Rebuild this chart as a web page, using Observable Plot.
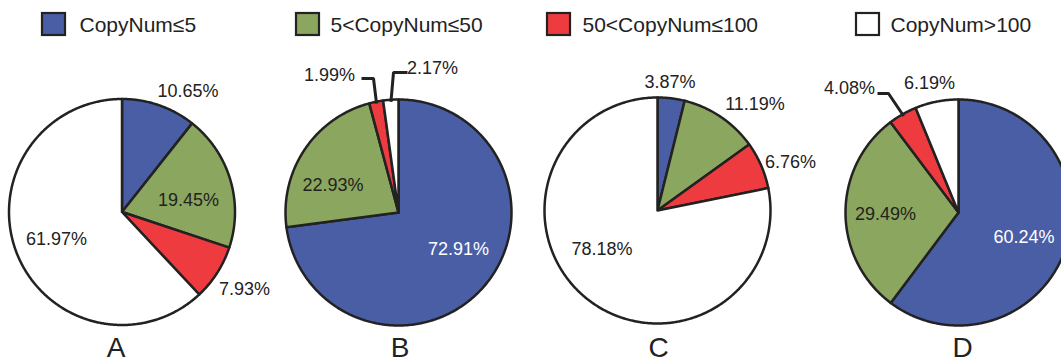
<!DOCTYPE html>
<html>
<head>
<meta charset="utf-8">
<script src="https://cdn.jsdelivr.net/npm/d3@7"></script>
<script src="https://cdn.jsdelivr.net/npm/@observablehq/plot@0.6"></script>
<style>
  html, body { margin: 0; padding: 0; background: #fff; overflow: hidden; }
</style>
</head>
<body>
<div id="chart"></div>
<script>
// Copy-number classes and the share (%) of each class in the four samples
const categories = ["CopyNum≤5", "5<CopyNum≤50", "50<CopyNum≤100", "CopyNum>100"];
const panels = ["A", "B", "C", "D"];
const sharesA = [10.65, 19.45, 7.93, 61.97];
const sharesB = [72.91, 22.93, 1.99, 2.17];
const sharesC = [3.87, 11.19, 6.76, 78.18];
const sharesD = [60.24, 29.49, 4.08, 6.19];
const classColors = ["#4a5ea6", "#8ba65e", "#ee3b40", "#ffffff"];

// ---- layout (pixel space of the figure) ----
const W = 1061, H = 359;
const R = 113;
const centers = [[121.5, 211.5], [398, 212], [657, 210], [958, 212]];
const panelLabelY = 348;
// where each percentage label sits, per panel, in category order
const labelPos = [
  [[187.5, 91], [188, 200], [244, 288.5], [56, 238.5]],
  [[458, 248.5], [332.5, 185], [329, 74.5], [432, 68]],
  [[669.5, 81.5], [754.5, 103.5], [790, 162], [601.5, 249]],
  [[1023.5, 237], [885, 214], [849, 88], [929, 83]]
];
// leader lines for thin slices: label end, elbow, then into the slice
const leaders = [
  {panel: 1, cat: 2, from: [361, 78], elbow: [373, 78]},
  {panel: 1, cat: 3, from: [407, 72], elbow: [393, 72]},
  {panel: 3, cat: 2, from: [877, 93], elbow: [888, 93]}
];
// legend swatches
const legendSwatchX = [42, 296, 547, 856];
const legendTextX = [79, 330, 582, 890];
const legendTop = 13, legendSize = 22, legendTextY = 25;

const fontFamily = "'Liberation Sans', Arial, Helvetica, sans-serif";
const ink = "#222222";

const shares = [sharesA, sharesB, sharesC, sharesD];
const pie = d3.pie().sort(null).value(d => d);

// slice outlines, one polygon per panel/category
const slicePoints = [];
const labels = [];
const leaderPoints = [];
shares.forEach((vals, p) => {
  const [cx, cy] = centers[p];
  const arcs = pie(vals);
  arcs.forEach((a, k) => {
    const id = panels[p] + k;
    const cat = categories[k];
    slicePoints.push({id, cat, x: cx, y: cy});
    const steps = Math.max(2, Math.ceil((a.endAngle - a.startAngle) * 180 / Math.PI * 2));
    for (let i = 0; i <= steps; i++) {
      const t = a.startAngle + (a.endAngle - a.startAngle) * i / steps;
      slicePoints.push({id, cat, x: cx + R * Math.sin(t), y: cy - R * Math.cos(t)});
    }
    slicePoints.push({id, cat, x: cx, y: cy});

    const [lx, ly] = labelPos[p][k];
    const inside = Math.hypot(lx - cx, ly - cy) < R;
    labels.push({
      x: lx, y: ly,
      text: vals[k].toFixed(2) + "%",
      color: inside && k === 0 ? "#ffffff" : ink
    });
  });
  leaders.filter(l => l.panel === p).forEach((l, j) => {
    const a = arcs[l.cat];
    const mid = (a.startAngle + a.endAngle) / 2;
    const id = "L" + p + "-" + l.cat;
    leaderPoints.push({id, x: l.from[0], y: l.from[1]});
    leaderPoints.push({id, x: l.elbow[0], y: l.elbow[1]});
    leaderPoints.push({id, x: cx + (R - 2) * Math.sin(mid), y: cy - (R - 2) * Math.cos(mid)});
  });
});

const panelLabels = panels.map((name, p) => ({x: centers[p][0] + [-6, 1.5, 1, 4][p], y: panelLabelY, text: name}));
const legendItems = categories.map((cat, k) => ({
  cat,
  x1: legendSwatchX[k], x2: legendSwatchX[k] + legendSize + 1,
  y1: legendTop, y2: legendTop + legendSize,
  tx: legendTextX[k], ty: legendTextY
}));

const chart = Plot.plot({
  width: W,
  height: H,
  margin: 0,
  x: {domain: [0, W], range: [0, W], axis: null},
  y: {domain: [0, H], range: [0, H], axis: null},
  color: {domain: categories, range: classColors},
  style: {fontFamily, background: "#ffffff", overflow: "hidden"},
  marks: [
    // legend
    Plot.rect(legendItems, {
      x1: "x1", x2: "x2", y1: "y1", y2: "y2",
      fill: "cat", stroke: ink, strokeWidth: 2.2,
      ariaLabel: "legend-swatch"
    }),
    Plot.text(legendItems, {
      x: "tx", y: "ty", text: "cat",
      textAnchor: "start", fontSize: 21, fill: ink
    }),
    // pie slices
    Plot.line(slicePoints, {
      x: "x", y: "y", z: "id",
      fill: "cat", stroke: ink, strokeWidth: 2.5,
      strokeLinejoin: "round"
    }),
    // leader lines
    Plot.line(leaderPoints, {
      x: "x", y: "y", z: "id",
      stroke: ink, strokeWidth: 3, strokeLinejoin: "miter", strokeLinecap: "butt"
    }),
    // percentage labels
    Plot.text(labels, {
      x: "x", y: "y", text: "text",
      fill: d => d.color, fontSize: 18
    }),
    // panel letters
    Plot.text(panelLabels, {
      x: "x", y: "y", text: "text",
      fontSize: 28, fill: ink
    })
  ]
});

// soft drop shadow under the legend swatches
const svg = d3.select(chart);
const defs = svg.insert("defs", ":first-child");
defs.append("filter")
  .attr("id", "swatch-shadow")
  .attr("x", "-30%").attr("y", "-30%").attr("width", "170%").attr("height", "170%")
  .append("feDropShadow")
  .attr("dx", 1).attr("dy", 2).attr("stdDeviation", 1.3)
  .attr("flood-color", "#000").attr("flood-opacity", 0.35);
svg.select('g[aria-label="legend-swatch"]').attr("filter", "url(#swatch-shadow)");

document.getElementById("chart").append(chart);
</script>
</body>
</html>
